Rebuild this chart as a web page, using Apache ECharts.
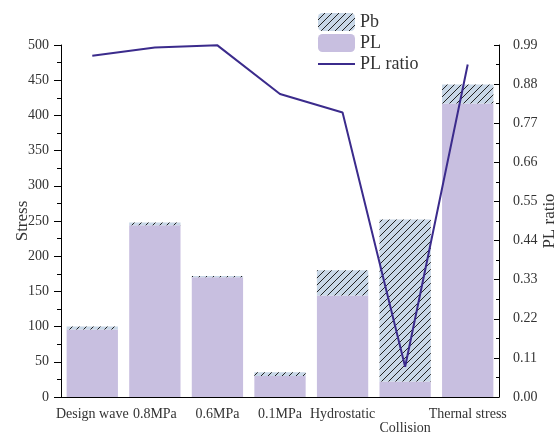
<!DOCTYPE html>
<html><head><meta charset="utf-8">
<script src="https://cdn.jsdelivr.net/npm/echarts@6/dist/echarts.min.js"></script>
<style>html,body{margin:0;padding:0;background:#fff}#c{width:557px;height:435px}</style>
</head><body><div id="c"></div>
<script>
const categories = ['Design wave', '0.8MPa', '0.6MPa', '0.1MPa', 'Hydrostatic', 'Collision', 'Thernal stress'];
const plValues = [96, 244, 170, 30, 144, 22, 417];
const pbValues = [4, 4, 2, 5, 36, 230, 27];
const ratioValues = [0.96, 0.983, 0.989, 0.852, 0.80, 0.085, 0.935];
const leftTicks = {min: 0, max: 500, interval: 50};
const rightTicks = {min: 0, max: 0.99, interval: 0.11};

const FONT = 'Liberation Serif';
function hatch() {
  const s = 7;
  const c = document.createElement('canvas');
  c.width = s; c.height = s;
  const g = c.getContext('2d');
  g.fillStyle = '#c8d7e7';
  g.fillRect(0, 0, s, s);
  g.strokeStyle = '#222';
  g.lineWidth = 1;
  g.beginPath();
  g.moveTo(-1, s + 1); g.lineTo(s + 1, -1);
  g.moveTo(-1 - s, s + 1); g.lineTo(1, -1);
  g.moveTo(s - 1, 2 * s + 1); g.lineTo(2 * s + 1, s - 1);
  g.stroke();
  return c;
}
const hatchFill = {image: hatch(), repeat: 'repeat'};

const chart = echarts.init(document.getElementById('c'), null, {renderer: 'canvas'});
chart.setOption({
  animation: false,
  backgroundColor: '#fff',
  grid: {left: 61, right: 58, top: 45, bottom: 38, outerBoundsMode: 'none', containLabel: false},
  legend: {
    orient: 'vertical', left: 313, top: 8,
    itemWidth: 37, itemHeight: 18, itemGap: 3,
    textStyle: {fontFamily: FONT, fontSize: 18, color: '#333', padding: [0, 0, 0, 0]},
    data: [
      {name: 'Pb', itemStyle: {color: hatchFill}},
      {name: 'PL'},
      {name: 'PL ratio', icon: 'path://M0,0 H37 V2 H0 Z', itemStyle: {color: '#3b2b8c'}}
    ]
  },
  xAxis: [{
    type: 'category', data: categories, position: 'bottom',
    axisLine: {lineStyle: {color: '#000', width: 1}},
    axisTick: {alignWithLabel: true, length: 7, lineStyle: {color: '#000'}},
    axisLabel: {
      interval: 0, fontFamily: FONT, fontSize: 14, color: '#333', margin: 10,
      formatter: function (v, i) { return i === 5 ? '\n' + v : v; }
    }
  }, {
    type: 'category', data: categories, position: 'bottom',
    axisLine: {show: false},
    axisTick: {length: 4, lineStyle: {color: '#000'}},
    axisLabel: {show: false}
  }],
  yAxis: [{
    type: 'value', min: leftTicks.min, max: leftTicks.max, interval: leftTicks.interval,
    name: 'Stress', nameLocation: 'middle', nameGap: 30, nameRotate: 90, nameMoveOverlap: false,
    nameTextStyle: {fontFamily: FONT, fontSize: 17, color: '#333'},
    axisLine: {show: true, lineStyle: {color: '#000'}},
    axisTick: {show: true, length: 7, lineStyle: {color: '#000'}},
    minorTick: {show: true, splitNumber: 2, length: 4, lineStyle: {color: '#000'}},
    splitLine: {show: false},
    axisLabel: {fontFamily: FONT, fontSize: 14, color: '#333', margin: 12}
  }, {
    type: 'value', min: rightTicks.min, max: rightTicks.max, interval: rightTicks.interval,
    position: 'right',
    name: 'PL ratio', nameLocation: 'middle', nameGap: 42, nameRotate: 90, nameMoveOverlap: false,
    nameTextStyle: {fontFamily: FONT, fontSize: 17, color: '#333'},
    axisLine: {show: true, lineStyle: {color: '#000'}},
    axisTick: {show: true, inside: true, length: 5, lineStyle: {color: '#000'}},
    minorTick: {show: true, splitNumber: 2, length: 3, lineStyle: {color: '#000'}},
    splitLine: {show: false},
    axisLabel: {fontFamily: FONT, fontSize: 14, color: '#333', margin: 14,
      formatter: function (v) { return v.toFixed(2); }}
  }],
  series: [{
    name: 'PL', type: 'bar', stack: 's', data: plValues, barWidth: '82%',
    itemStyle: {color: '#c8bfe0'}
  }, {
    name: 'Pb', type: 'bar', stack: 's', data: pbValues, barWidth: '82%',
    itemStyle: {color: hatchFill}
  }, {
    name: 'PL ratio', type: 'line', yAxisIndex: 1, data: ratioValues,
    symbol: 'none', lineStyle: {color: '#3b2b8c', width: 2}, itemStyle: {color: '#3b2b8c'}, z: 5
  }]
});
</script></body></html>
